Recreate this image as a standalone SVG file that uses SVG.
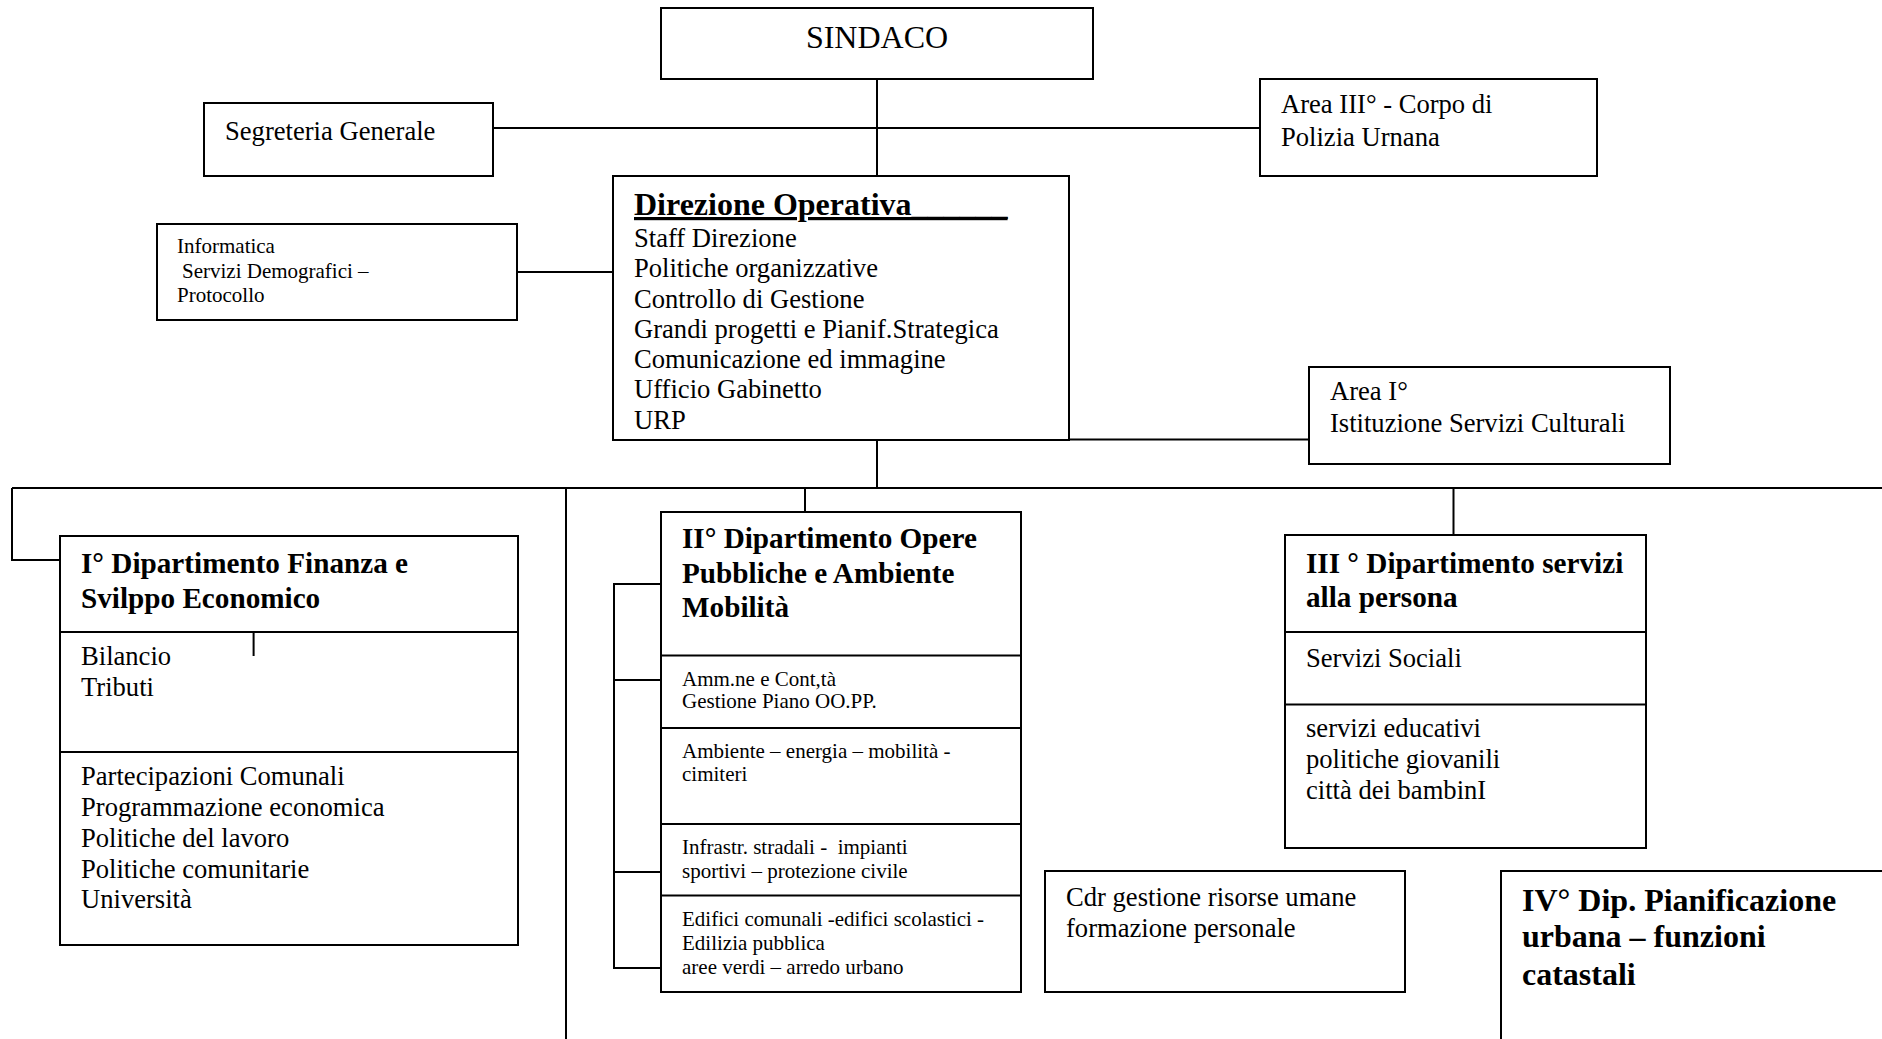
<svg xmlns="http://www.w3.org/2000/svg" width="1882" height="1039" viewBox="0 0 1882 1039">
<style>
.box{fill:#fff;stroke:#000;stroke-width:2}
.ln{fill:none;stroke:#000;stroke-width:2}
text{font-family:"Liberation Serif","Times New Roman",serif;fill:#000}
.t{font-size:26.6px}
.s{font-size:21px}
.b{font-size:29.2px;font-weight:bold}
.bb{font-size:32px;font-weight:bold}
</style>
<rect width="1882" height="1039" fill="#fff"/>
<g id="connectors">
<path class="ln" d="M877 79 V176"/>
<path class="ln" d="M493 128 H1260"/>
<path class="ln" d="M517 272 H613"/>
<path class="ln" d="M1069 439.5 H1309"/>
<path class="ln" d="M877 440 V488"/>
<path class="ln" d="M12 488 H1882"/>
<path class="ln" d="M12 488 V560 H60"/>
<path class="ln" d="M566 488 V1039"/>
<path class="ln" d="M805 488 V532"/>
<path class="ln" d="M1453.5 488 V535"/>
<path class="ln" d="M661 584 H614 V968 H661 M614 680 H661 M614 872 H661"/>
</g>
<g id="sindaco">
<rect class="box" x="661" y="8" width="432" height="71"/>
<text x="877" y="48" font-size="32" text-anchor="middle">SINDACO</text>
</g>
<g id="segreteria">
<rect class="box" x="204" y="103" width="289" height="73"/>
<text class="t" x="225" y="140">Segreteria Generale</text>
</g>
<g id="area3">
<rect class="box" x="1260" y="79" width="337" height="97"/>
<text class="t" x="1281" y="113">Area III° - Corpo di</text>
<text class="t" x="1281" y="145.7">Polizia Urnana</text>
</g>
<g id="direzione">
<rect class="box" x="613" y="176" width="456" height="264"/>
<text class="bb" x="634" y="215" text-decoration="underline">Direzione Operativa______</text>
<text class="t" x="634" y="246.7">Staff Direzione</text>
<text class="t" x="634" y="276.7">Politiche organizzative</text>
<text class="t" x="634" y="307.7">Controllo di Gestione</text>
<text class="t" x="634" y="338">Grandi progetti e Pianif.Strategica</text>
<text class="t" x="634" y="368">Comunicazione ed immagine</text>
<text class="t" x="634" y="398">Ufficio Gabinetto</text>
<text class="t" x="634" y="429">URP</text>
</g>
<g id="informatica">
<rect class="box" x="157" y="224" width="360" height="96"/>
<text class="s" x="177" y="253">Informatica</text>
<text class="s" x="182" y="278">Servizi Demografici –</text>
<text class="s" x="177" y="302">Protocollo</text>
</g>
<g id="area1">
<rect class="box" x="1309" y="367" width="361" height="97"/>
<text class="t" x="1330" y="400">Area I°</text>
<text class="t" x="1330" y="431.7">Istituzione Servizi Culturali</text>
</g>
<g id="dip1">
<rect class="box" x="60" y="536" width="458" height="409"/>
<path class="ln" d="M60 632 H518 M60 752 H518 M253.6 632 V656"/>
<text class="b" x="81" y="572.6">I° Dipartimento Finanza e</text>
<text class="b" x="81" y="607.7">Svilppo Economico</text>
<text class="t" x="81" y="665">Bilancio</text>
<text class="t" x="81" y="696">Tributi</text>
<text class="t" x="81" y="785">Partecipazioni Comunali</text>
<text class="t" x="81" y="816">Programmazione economica</text>
<text class="t" x="81" y="847">Politiche del lavoro</text>
<text class="t" x="81" y="877.5">Politiche comunitarie</text>
<text class="t" x="81" y="908">Università</text>
</g>
<g id="dip2">
<rect class="box" x="661" y="512" width="360" height="480"/>
<path class="ln" d="M661 655.5 H1021 M661 728 H1021 M661 824 H1021 M661 895.5 H1021"/>
<text class="b" x="682" y="548.4">II° Dipartimento Opere</text>
<text class="b" x="682" y="582.7">Pubbliche e Ambiente</text>
<text class="b" x="682" y="617.3">Mobilità</text>
<text class="s" x="682" y="686">Amm.ne e Cont,tà</text>
<text class="s" x="682" y="708">Gestione Piano OO.PP.</text>
<text class="s" x="682" y="758">Ambiente – energia – mobilità -</text>
<text class="s" x="682" y="781">cimiteri</text>
<text class="s" x="682" y="853.6" xml:space="preserve">Infrastr. stradali -  impianti</text>
<text class="s" x="682" y="877.5">sportivi – protezione civile</text>
<text class="s" x="682" y="925.6">Edifici comunali -edifici scolastici -</text>
<text class="s" x="682" y="950">Edilizia pubblica</text>
<text class="s" x="682" y="973.8">aree verdi – arredo urbano</text>
</g>
<g id="dip3">
<rect class="box" x="1285" y="535" width="361" height="313"/>
<path class="ln" d="M1285 632 H1646 M1285 704.5 H1646"/>
<text class="b" x="1306" y="573.4">III ° Dipartimento servizi</text>
<text class="b" x="1306" y="607.3">alla persona</text>
<text class="t" x="1306" y="667.2">Servizi Sociali</text>
<text class="t" x="1306" y="737.4">servizi educativi</text>
<text class="t" x="1306" y="768">politiche giovanili</text>
<text class="t" x="1306" y="799">città dei bambinI</text>
</g>
<g id="cdr">
<rect class="box" x="1045" y="871" width="360" height="121"/>
<text class="t" x="1066" y="906">Cdr gestione risorse umane</text>
<text class="t" x="1066" y="937.4">formazione personale</text>
</g>
<g id="dip4">
<rect class="box" x="1501" y="871" width="400" height="200"/>
<text class="bb" x="1522" y="911.4">IV° Dip. Pianificazione</text>
<text class="bb" x="1522" y="947">urbana – funzioni</text>
<text class="bb" x="1522" y="984.5">catastali</text>
</g>
</svg>
